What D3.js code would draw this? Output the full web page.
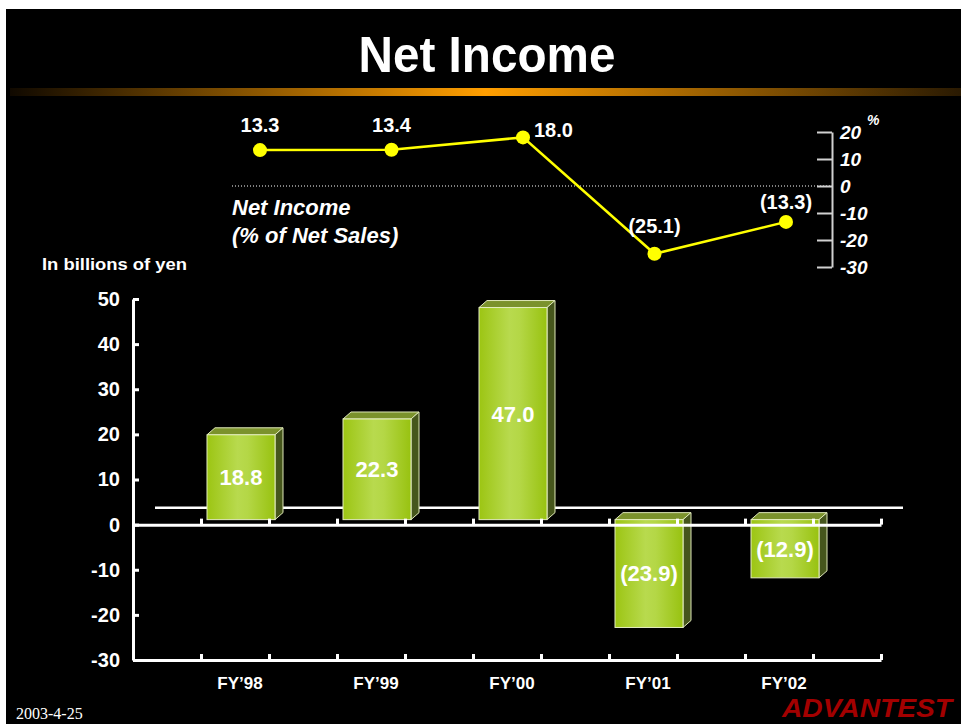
<!DOCTYPE html>
<html>
<head>
<meta charset="utf-8">
<script src="https://cdn.jsdelivr.net/npm/d3@7"></script>
<style>
  html, body { margin: 0; padding: 0; background: #fff; }
  svg { display: block; font-family: "Liberation Sans", Arial, sans-serif; }
</style>
</head>
<body>
<div id="chart"></div>
<script>
// chart data
const categories = ["FY\u201998", "FY\u201999", "FY\u201900", "FY\u201901", "FY\u201902"];
const netIncome = [18.8, 22.3, 47.0, -23.9, -12.9];      // billions of yen
const pctOfSales = [13.3, 13.4, 18.0, -25.1, -13.3];    // % of net sales
const yTicks = [-30, -20, -10, 0, 10, 20, 30, 40, 50];
const pctTicks = [-30, -20, -10, 0, 10, 20];

const W = 961, H = 724;
const svg = d3.select("#chart").append("svg")
    .attr("width", W).attr("height", H);

const defs = svg.append("defs");
const band = defs.append("linearGradient").attr("id", "band")
    .attr("x1", 0).attr("x2", 1).attr("y1", 0).attr("y2", 0);
band.append("stop").attr("offset", 0).attr("stop-color", "#100900");
band.append("stop").attr("offset", 0.5).attr("stop-color", "#ff9e00");
band.append("stop").attr("offset", 1).attr("stop-color", "#2a1a02");

const face = defs.append("linearGradient").attr("id", "face")
    .attr("x1", 0).attr("x2", 1).attr("y1", 0).attr("y2", 0);
face.append("stop").attr("offset", 0).attr("stop-color", "#9cc513");
face.append("stop").attr("offset", 0.45).attr("stop-color", "#b8da4e");
face.append("stop").attr("offset", 0.6).attr("stop-color", "#b4d746");
face.append("stop").attr("offset", 1).attr("stop-color", "#98c210");

// background panel
svg.append("rect").attr("x", 6).attr("y", 9).attr("width", W - 6).attr("height", H - 9)
    .attr("fill", "#000");
svg.append("rect").attr("x", 10).attr("y", 88).attr("width", W - 10).attr("height", 8)
    .attr("fill", "url(#band)");

svg.append("text")
    .attr("x", 487).attr("y", 72)
    .attr("text-anchor", "middle")
    .attr("font-size", 50).attr("font-weight", "bold")
    .attr("textLength", 257).attr("lengthAdjust", "spacingAndGlyphs")
    .attr("fill", "#fff")
    .text("Net Income");

// ---- bar chart ----
const y = d3.scaleLinear().domain([-30, 50]).range([660, 299]);
const x = d3.scaleBand().domain(categories).range([133, 881])
    .paddingInner(0.5).paddingOuter(0.5);
const xt = d3.scaleLinear().domain([0, 5.5]).range([133, 881]);
const depth = { dx: 8, dy: 7 };
const shift = { dx: 6, dy: -5 };

// back floor line
svg.append("line")
    .attr("x1", 133 + 22).attr("x2", 881 + 22)
    .attr("y1", y(0) - 17).attr("y2", y(0) - 17)
    .attr("stroke", "#fff").attr("stroke-width", 2.5);

const bars = svg.append("g").attr("transform", `translate(${shift.dx},${shift.dy})`);
const bw = x.bandwidth();
const g = bars.selectAll("g.bar").data(netIncome).enter().append("g").attr("class", "bar");
g.append("polygon")
    .attr("points", (d, i) => {
        const x0 = x(categories[i]), yt = Math.min(y(d), y(0));
        return [[x0, yt], [x0 + bw, yt], [x0 + bw + depth.dx, yt - depth.dy], [x0 + depth.dx, yt - depth.dy]].join(" ");
    })
    .attr("fill", "#7b922c").attr("stroke", "#dfe8b8").attr("stroke-width", 1);
g.append("polygon")
    .attr("points", (d, i) => {
        const x1 = x(categories[i]) + bw, yt = Math.min(y(d), y(0)), yb = Math.max(y(d), y(0));
        return [[x1, yt], [x1 + depth.dx, yt - depth.dy], [x1 + depth.dx, yb - depth.dy], [x1, yb]].join(" ");
    })
    .attr("fill", "#46561c").attr("stroke", "#dfe8b8").attr("stroke-width", 1);
g.append("rect")
    .attr("x", (d, i) => x(categories[i]))
    .attr("y", d => Math.min(y(d), y(0)))
    .attr("width", bw)
    .attr("height", d => Math.abs(y(d) - y(0)))
    .attr("fill", "url(#face)").attr("stroke", "#e4edbf").attr("stroke-width", 1);

const fmt = v => v < 0 ? "(" + d3.format(".1f")(-v) + ")" : d3.format(".1f")(v);
g.append("text")
    .attr("x", (d, i) => x(categories[i]) + bw / 2)
    .attr("y", d => (y(d) + y(0)) / 2)
    .attr("dy", "0.36em")
    .attr("text-anchor", "middle")
    .attr("font-size", 22).attr("font-weight", "bold")
    .attr("fill", "#fff")
    .text(d => fmt(d));

// axes
function xTickAxis(yPos) {
    const a = svg.append("g")
        .attr("transform", `translate(0,${yPos})`)
        .call(d3.axisBottom(xt).tickValues(d3.range(0, 5.51, 0.5))
            .tickSizeInner(-6).tickSizeOuter(0).tickFormat(""));
    a.selectAll("path, line").attr("stroke", "#fff").attr("stroke-width", 3);
    return a;
}
xTickAxis(y(0));
xTickAxis(y(-30));

const ya = svg.append("g")
    .attr("transform", "translate(133,0)")
    .call(d3.axisLeft(y).tickValues(yTicks).tickFormat(d => String(d))
        .tickSizeInner(-6).tickSizeOuter(0).tickPadding(13));
ya.selectAll("path, line").attr("stroke", "#fff").attr("stroke-width", 3);
ya.selectAll("text")
    .attr("fill", "#fff").attr("font-size", 20).attr("font-weight", "bold")
    .attr("font-family", "Liberation Sans, Arial, sans-serif");

svg.append("g").selectAll("text").data(categories).enter().append("text")
    .attr("x", d => x(d) + bw / 2 + 5)
    .attr("y", 689)
    .attr("text-anchor", "middle")
    .attr("font-size", 17).attr("font-weight", "bold")
    .attr("fill", "#fff")
    .text(d => d);

svg.append("text")
    .attr("x", 42).attr("y", 270)
    .attr("font-size", 16.5).attr("font-weight", "bold")
    .attr("textLength", 145).attr("lengthAdjust", "spacingAndGlyphs")
    .attr("fill", "#fff")
    .text("In billions of yen");

// ---- percent line ----
const py = d3.scaleLinear().domain([-30, 20]).range([267, 132]);
const px = d3.scalePoint().domain(categories).range([260, 786]);

svg.append("line")
    .attr("x1", 232).attr("x2", 832)
    .attr("y1", py(0)).attr("y2", py(0))
    .attr("stroke", "#fff").attr("stroke-width", 1)
    .attr("stroke-dasharray", "1,2");

const pa = svg.append("g")
    .attr("transform", "translate(832,0)")
    .call(d3.axisRight(py).tickValues(pctTicks).tickFormat(d => String(d))
        .tickSizeInner(-15).tickSizeOuter(0).tickPadding(8));
pa.selectAll("path, line").attr("stroke", "#d0d0d0").attr("stroke-width", 2);
pa.selectAll("text")
    .attr("fill", "#fff").attr("font-size", 19).attr("font-weight", "bold")
    .attr("font-style", "italic")
    .attr("font-family", "Liberation Sans, Arial, sans-serif");
svg.append("text")
    .attr("x", 867).attr("y", 125)
    .attr("font-size", 14).attr("font-weight", "bold").attr("font-style", "italic")
    .attr("fill", "#fff").text("%");

svg.append("path")
    .datum(pctOfSales)
    .attr("d", d3.line().x((d, i) => px(categories[i])).y(d => py(d)))
    .attr("fill", "none").attr("stroke", "#ffff00").attr("stroke-width", 2.5);
svg.append("g").selectAll("circle").data(pctOfSales).enter().append("circle")
    .attr("cx", (d, i) => px(categories[i]))
    .attr("cy", d => py(d))
    .attr("r", 7)
    .attr("fill", "#ffff00");

const peak = d3.maxIndex(pctOfSales);
svg.append("g").selectAll("text").data(pctOfSales).enter().append("text")
    .attr("x", (d, i) => px(categories[i]) + (i === peak ? 11 : 0))
    .attr("y", (d, i) => py(d) + (i === peak ? 0 : d < -20 ? -21 : d < 0 ? -13 : -18))
    .attr("text-anchor", (d, i) => i === peak ? "start" : "middle")
    .attr("font-size", 20).attr("font-weight", "bold")
    .attr("fill", "#fff")
    .text(d => fmt(d));

svg.append("text")
    .attr("x", 232).attr("y", 215)
    .attr("font-size", 22).attr("font-weight", "bold").attr("font-style", "italic")
    .attr("fill", "#fff").text("Net Income");
svg.append("text")
    .attr("x", 232).attr("y", 243)
    .attr("font-size", 22).attr("font-weight", "bold").attr("font-style", "italic")
    .attr("fill", "#fff").text("(% of Net Sales)");

// footer
svg.append("text")
    .attr("x", 16).attr("y", 719)
    .attr("font-family", "Liberation Serif, Times New Roman, serif")
    .attr("font-size", 16).attr("fill", "#fff")
    .text("2003-4-25");
svg.append("text")
    .attr("x", 782).attr("y", 717)
    .attr("font-size", 26).attr("font-weight", "bold").attr("font-style", "italic")
    .attr("textLength", 170).attr("lengthAdjust", "spacingAndGlyphs")
    .attr("fill", "#a30000")
    .text("ADVANTEST");
</script>
</body>
</html>
